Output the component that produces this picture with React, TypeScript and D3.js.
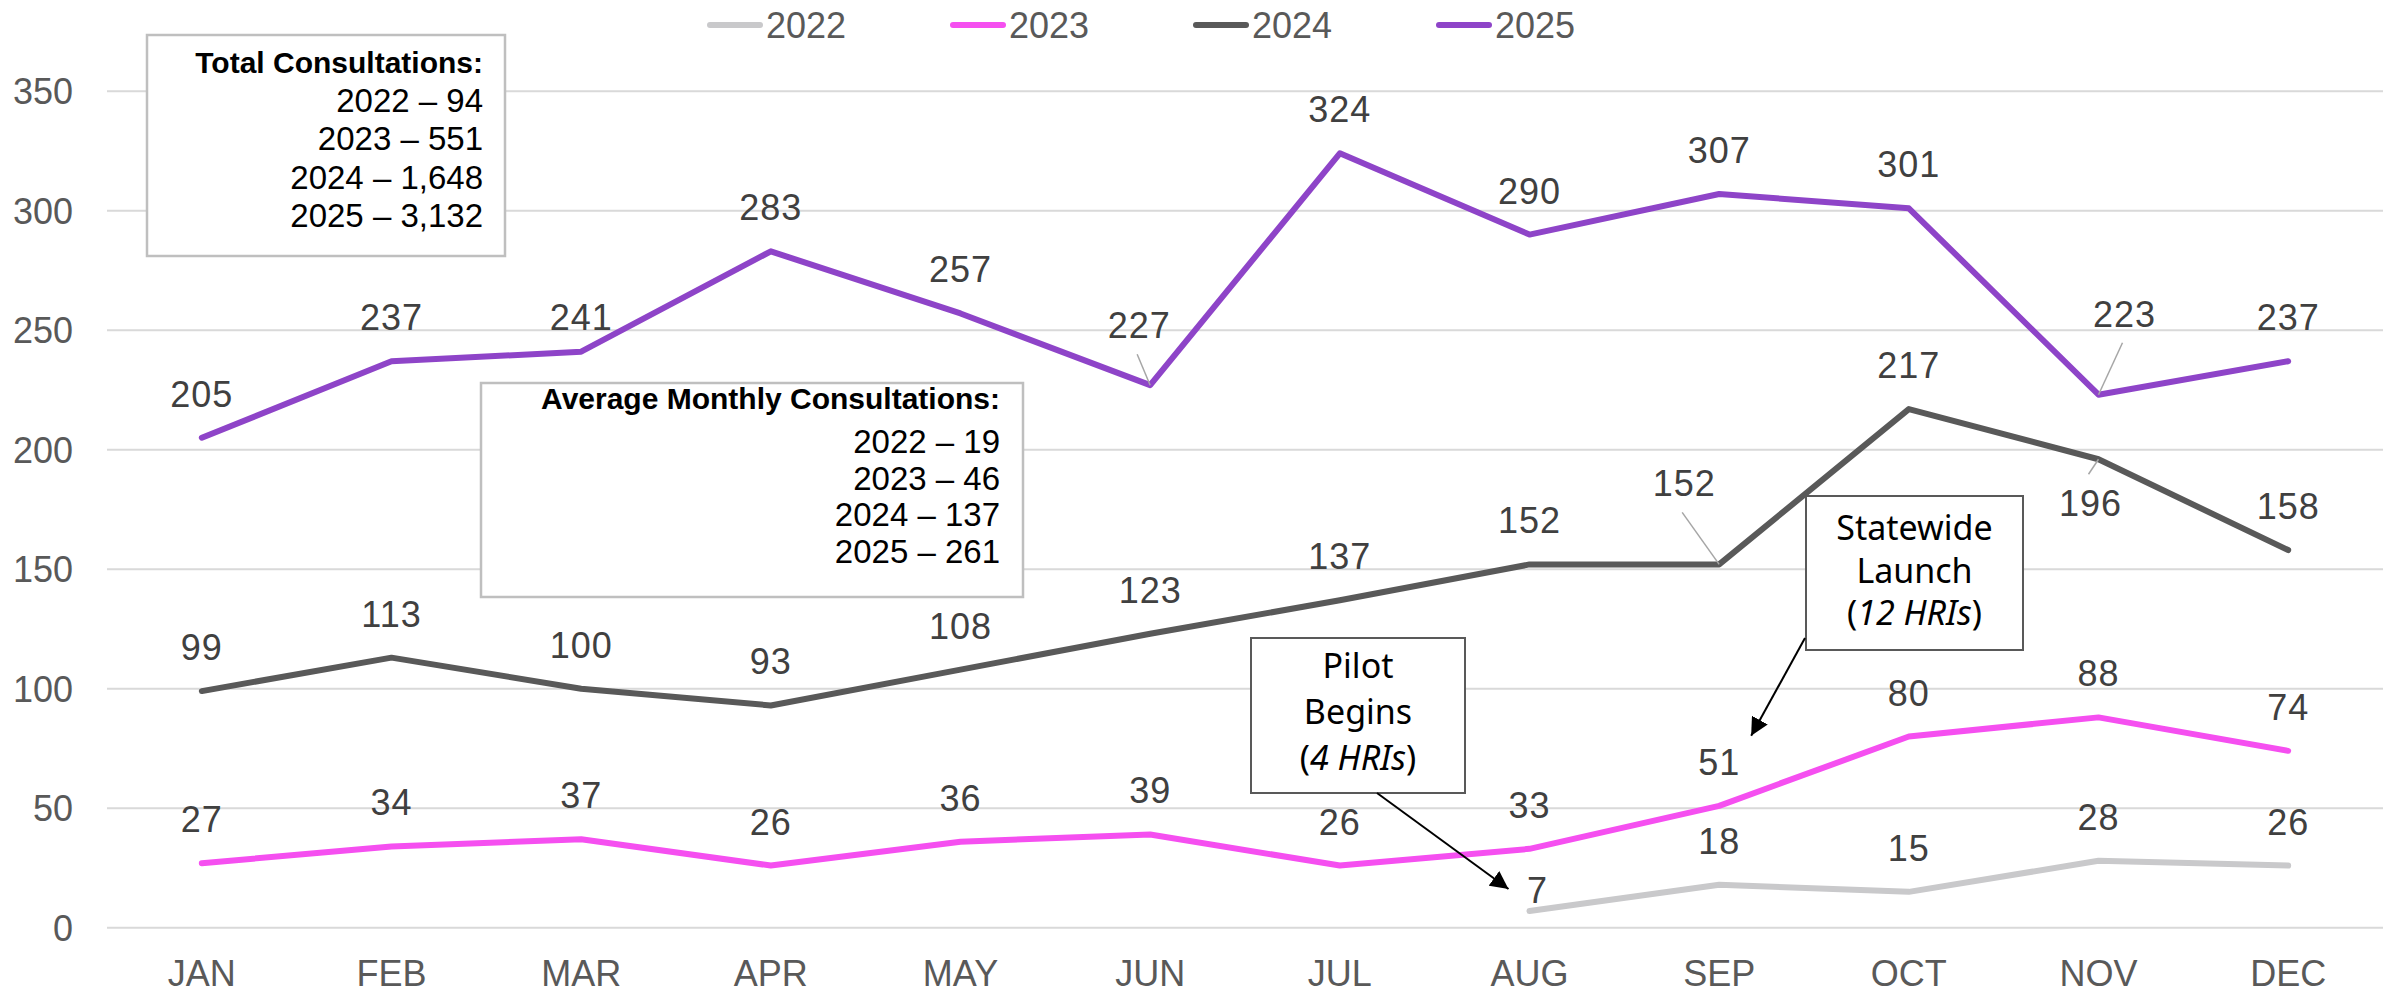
import React, { useEffect, useRef } from "react";
import * as d3 from "d3";

// chart data
const months = ["JAN", "FEB", "MAR", "APR", "MAY", "JUN", "JUL", "AUG", "SEP", "OCT", "NOV", "DEC"];
const years = ["2022", "2023", "2024", "2025"];
const values2022 = [null, null, null, null, null, null, null, 7, 18, 15, 28, 26];
const values2023 = [27, 34, 37, 26, 36, 39, 26, 33, 51, 80, 88, 74];
const values2024 = [99, 113, 100, 93, 108, 123, 137, 152, 152, 217, 196, 158];
const values2025 = [205, 237, 241, 283, 257, 227, 324, 290, 307, 301, 223, 237];
const yTicks = [0, 50, 100, 150, 200, 250, 300, 350];
const totalConsultations = [94, 551, 1648, 3132];
const avgConsultations = [19, 46, 137, 261];

const colors = ["#c9c9cb", "#f54ff0", "#595959", "#8e44c8"];

// label placement tweaks: [dx, baseline offset from point, leader?]
const labelTweaks: Record<string, [number, number, boolean]> = {
  "2025-MAR": [0, -22, false],
  "2025-JUN": [-11, -47, true],
  "2025-NOV": [26, -68, true],
  "2024-SEP": [-35, -68, true],
  "2024-NOV": [-8, 57, true],
  "2022-AUG": [8, -8, false],
};

const W = 2390, H = 993;
const FONT = "'Liberation Sans', Arial, sans-serif";
const BOX_FONT = "'Noto Sans', 'Open Sans', sans-serif";

export default function App() {
  const ref = useRef<SVGSVGElement>(null);

  useEffect(() => {
    document.body.style.margin = "0";
    const svg = d3.select(ref.current);
    svg.selectAll("*").remove();

    const x = d3.scaleBand().domain(months).range([107, 2383]);
    const cx = (m: string) => (x(m) as number) + x.bandwidth() / 2;
    const y = d3.scaleLinear().domain([0, 350]).range([927.7, 91.2]);

    svg.append("defs").append("marker")
      .attr("id", "arrow")
      .attr("viewBox", "0 0 10 10")
      .attr("refX", 10).attr("refY", 5)
      .attr("markerWidth", 9).attr("markerHeight", 9)
      .attr("markerUnits", "strokeWidth")
      .attr("orient", "auto")
      .append("path").attr("d", "M0,0 L10,5 L0,10 z").attr("fill", "#000");

    // gridlines
    svg.append("g").selectAll("line").data(yTicks).join("line")
      .attr("x1", 107).attr("x2", 2383)
      .attr("y1", d => y(d)).attr("y2", d => y(d))
      .attr("stroke", "#d9d9d9").attr("stroke-width", 2);

    // y tick labels
    svg.append("g").selectAll("text").data(yTicks).join("text")
      .attr("x", 73).attr("y", d => y(d) + 13)
      .attr("text-anchor", "end")
      .attr("font-family", FONT).attr("font-size", 36)
      .attr("fill", "#595959")
      .text(d => d);

    // x labels
    svg.append("g").selectAll("text").data(months).join("text")
      .attr("x", d => cx(d)).attr("y", 986)
      .attr("text-anchor", "middle")
      .attr("font-family", FONT).attr("font-size", 36)
      .attr("fill", "#595959")
      .text(d => d);

    // legend
    const legend = svg.append("g").selectAll("g").data(years).join("g")
      .attr("transform", (d, i) => `translate(${707 + i * 243},0)`);
    legend.append("line")
      .attr("x1", 3).attr("x2", 53).attr("y1", 25).attr("y2", 25)
      .attr("stroke", (d, i) => colors[i]).attr("stroke-width", 6)
      .attr("stroke-linecap", "round");
    legend.append("text")
      .attr("x", 59).attr("y", 38)
      .attr("font-family", FONT).attr("font-size", 36)
      .attr("fill", "#595959")
      .text(d => d);

    // info boxes
    const infoBox = (left: number, top: number, w: number, h: number, rightX: number,
      title: string, rows: string[], titleBase: number, firstRow: number, step: number) => {
      const g = svg.append("g");
      g.append("rect").attr("x", left).attr("y", top).attr("width", w).attr("height", h)
        .attr("fill", "#fff").attr("stroke", "#bfbfbf").attr("stroke-width", 2.5);
      g.append("text").attr("x", rightX).attr("y", titleBase)
        .attr("text-anchor", "end").attr("font-family", FONT).attr("font-weight", "bold")
        .attr("font-size", 30).attr("fill", "#000").text(title);
      g.selectAll("text.row").data(rows).join("text").attr("class", "row")
        .attr("x", rightX).attr("y", (d, i) => firstRow + i * step)
        .attr("text-anchor", "end").attr("font-family", FONT)
        .attr("font-size", 33).attr("fill", "#000").text(d => d);
    };
    const fmt = d3.format(",");
    infoBox(147, 35, 358, 221, 483, "Total Consultations:",
      years.map((yr, i) => `${yr} – ${fmt(totalConsultations[i])}`), 73, 112, 38.3);
    infoBox(481, 383, 542, 214, 1000, "Average Monthly Consultations:",
      years.map((yr, i) => `${yr} – ${avgConsultations[i]}`), 409, 453, 36.7);

    // series lines
    const series = [values2022, values2023, values2024, values2025];
    const line = d3.line<number | null>()
      .defined(d => d != null)
      .x((d, i) => cx(months[i]))
      .y(d => y(d as number));
    series.forEach((vals, si) => {
      svg.append("path").datum(vals)
        .attr("d", line)
        .attr("fill", "none").attr("stroke", colors[si]).attr("stroke-width", 6)
        .attr("stroke-linejoin", "round").attr("stroke-linecap", "round");
    });

    // data labels
    const lab = svg.append("g");
    series.forEach((vals, si) => {
      vals.forEach((v, i) => {
        if (v == null) return;
        const key = `${years[si]}-${months[i]}`;
        const px = cx(months[i]), py = y(v);
        const [dx, dy, leader] = labelTweaks[key] || [0, -31, false];
        const lx = px + dx, ly = py + dy;
        if (leader) {
          const sy = dy < 0 ? ly + 16 : ly - 42;
          lab.append("line")
            .attr("x1", lx - 2).attr("y1", sy).attr("x2", px).attr("y2", py)
            .attr("stroke", "#a6a6a6").attr("stroke-width", 1.5);
        }
        lab.append("text")
          .attr("x", lx).attr("y", ly)
          .attr("text-anchor", "middle")
          .attr("font-family", FONT).attr("font-size", 36)
          .attr("letter-spacing", 1)
          .attr("fill", "#404040")
          .text(v);
      });
    });

    // annotation boxes
    const note = (left: number, top: number, w: number, h: number, lines: string[], italic: string, base: number, step: number) => {
      const g = svg.append("g");
      g.append("rect").attr("x", left).attr("y", top).attr("width", w).attr("height", h)
        .attr("fill", "#fff").attr("stroke", "#595959").attr("stroke-width", 2);
      const mid = left + w / 2;
      lines.forEach((t, i) => {
        g.append("text").attr("x", mid).attr("y", base + i * step)
          .attr("text-anchor", "middle").attr("font-family", BOX_FONT)
          .attr("font-size", 34).attr("fill", "#000").text(t);
      });
      const t = g.append("text").attr("x", mid).attr("y", base + lines.length * step)
        .attr("text-anchor", "middle").attr("font-family", BOX_FONT)
        .attr("font-size", 34).attr("fill", "#000");
      t.append("tspan").text("(");
      t.append("tspan").attr("font-style", "italic").text(italic);
      t.append("tspan").text(")");
    };
    note(1251, 638, 214, 155, ["Pilot", "Begins"], "4 HRIs", 678, 46);
    note(1806, 496, 217, 154, ["Statewide", "Launch"], "12 HRIs", 540, 42.5);

    // arrows pointing at the data
    svg.append("line")
      .attr("x1", 1377).attr("y1", 793)
      .attr("x2", cx("AUG") - 21).attr("y2", y(7) - 22)
      .attr("stroke", "#000").attr("stroke-width", 2).attr("marker-end", "url(#arrow)");
    svg.append("line")
      .attr("x1", 1805).attr("y1", 638)
      .attr("x2", cx("SEP") + 32).attr("y2", y(51) - 70)
      .attr("stroke", "#000").attr("stroke-width", 2).attr("marker-end", "url(#arrow)");
  }, []);

  return <svg ref={ref} width={W} height={H} style={{ display: "block", background: "#fff" }} />;
}
